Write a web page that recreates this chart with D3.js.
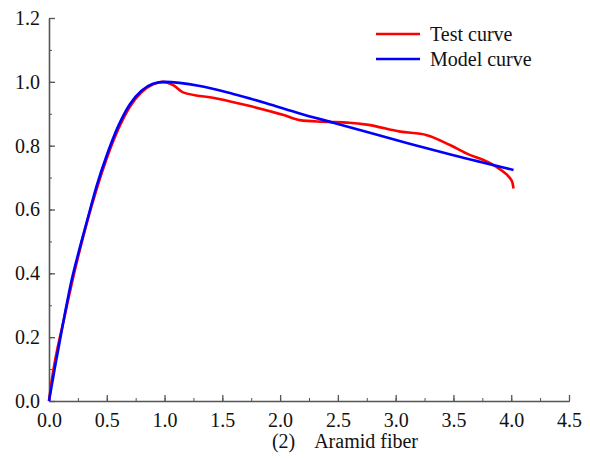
<!DOCTYPE html>
<html>
<head>
<meta charset="utf-8">
<script src="https://cdn.jsdelivr.net/npm/d3@7"></script>
<style>
  body { margin: 0; background: #fff; }
  text { font-family: "Liberation Serif", "Times New Roman", serif; fill: #111; }
</style>
</head>
<body>
<div id="chart"></div>
<script>
// values
var testX  = [0, 0.02, 0.138, 0.254, 0.413, 0.5, 0.6, 0.7, 0.8, 0.9, 0.98, 1.075, 1.16, 1.45, 1.74, 2.03, 2.17, 2.37, 2.6, 2.75, 3.04, 3.27, 3.47, 3.64, 3.76, 3.87, 3.96, 3.99, 4.01, 4.02]
var testY  = [0, 0.055, 0.27, 0.455, 0.665, 0.76, 0.852, 0.922, 0.967, 0.992, 1.0, 0.99, 0.967, 0.948, 0.924, 0.896, 0.88, 0.875, 0.872, 0.866, 0.844, 0.833, 0.802, 0.771, 0.755, 0.734, 0.71, 0.698, 0.685, 0.666]
var modelX = [0, 0.052, 0.138, 0.196, 0.254, 0.326, 0.413, 0.5, 0.6, 0.7, 0.8, 0.9, 1.0, 1.306, 1.594, 1.88, 2.17, 2.46, 2.8, 3.12, 3.5, 4.02]
var modelY = [0, 0.107, 0.275, 0.379, 0.463, 0.56, 0.675, 0.77, 0.862, 0.93, 0.972, 0.994, 1.0, 0.987, 0.962, 0.933, 0.901, 0.872, 0.838, 0.806, 0.77, 0.724]
var xTicks = [0, 0.5, 1.0, 1.5, 2.0, 2.5, 3.0, 3.5, 4.0, 4.5]
var yTicks = [0, 0.2, 0.4, 0.6, 0.8, 1.0, 1.2]
var seriesNames = ["Test curve", "Model curve"]
var seriesColors = ["#ff0000", "#0000ff"]

var W = 590, H = 458
var plotL = 49, plotR = 569, plotT = 18, plotB = 401
var axisColor = "#555"
var fs = 20

var svg = d3.select("#chart").append("svg")
  .attr("width", W)
  .attr("height", H)

var x = d3.scaleLinear().domain([0, 4.5]).range([plotL, plotR])
var y = d3.scaleLinear().domain([0, 1.2]).range([plotB, plotT])

// x axis, ticks pointing inward
var xMinor = d3.range(0, 4.5001, 0.25)
svg.append("g")
  .attr("transform", "translate(0," + plotB + ")")
  .call(d3.axisBottom(x).tickValues(xMinor).tickSize(-3).tickFormat(""))
  .call(g => g.selectAll("line,path").attr("stroke", axisColor))
var gx = svg.append("g")
  .attr("transform", "translate(0," + plotB + ")")
  .call(d3.axisBottom(x).tickValues(xTicks).tickSize(-6).tickSizeOuter(0).tickPadding(12).tickFormat(d3.format(".1f")))
gx.select(".domain").attr("stroke", axisColor).attr("stroke-width", 1.6)
gx.selectAll(".tick line").attr("stroke", axisColor).attr("stroke-width", 1.3)
gx.selectAll("text").attr("font-size", fs).attr("font-family", "Liberation Serif").attr("fill", "#111")

// y axis
var yMinor = d3.range(0, 1.2001, 0.1)
svg.append("g")
  .attr("transform", "translate(" + plotL + ",0)")
  .call(d3.axisLeft(y).tickValues(yMinor).tickSize(-3).tickFormat(""))
  .call(g => g.selectAll("line,path").attr("stroke", axisColor))
var gy = svg.append("g")
  .attr("transform", "translate(" + plotL + ",0)")
  .call(d3.axisLeft(y).tickValues(yTicks).tickSize(-6).tickSizeOuter(0).tickPadding(9).tickFormat(d3.format(".1f")))
gy.select(".domain").attr("stroke", axisColor).attr("stroke-width", 1.6)
gy.selectAll(".tick line").attr("stroke", axisColor).attr("stroke-width", 1.3)
gy.selectAll("text").attr("font-size", fs).attr("font-family", "Liberation Serif").attr("fill", "#111")

// curves
var line = d3.line()
  .x(d => x(d[0]))
  .y(d => y(d[1]))
  .curve(d3.curveMonotoneX)

var series = [d3.zip(testX, testY), d3.zip(modelX, modelY)]
series.forEach(function (pts, i) {
  svg.append("path")
    .datum(pts)
    .attr("fill", "none")
    .attr("stroke", seriesColors[i])
    .attr("stroke-width", 2.6)
    .attr("stroke-linejoin", "round")
    .attr("d", line)
})

// legend
var legend = svg.append("g").attr("transform", "translate(376,34)")
seriesNames.forEach(function (name, i) {
  legend.append("line")
    .attr("x1", 0).attr("x2", 44)
    .attr("y1", i * 25).attr("y2", i * 25)
    .attr("stroke", seriesColors[i])
    .attr("stroke-width", 2.6)
  legend.append("text")
    .attr("x", 54)
    .attr("y", i * 25 + 7)
    .attr("font-size", fs)
    .text(name)
})

// caption
svg.append("text")
  .attr("x", 345)
  .attr("y", 448)
  .attr("text-anchor", "middle")
  .attr("font-size", fs)
  .style("white-space", "pre")
  .text("(2)    Aramid fiber")
</script>
</body>
</html>
